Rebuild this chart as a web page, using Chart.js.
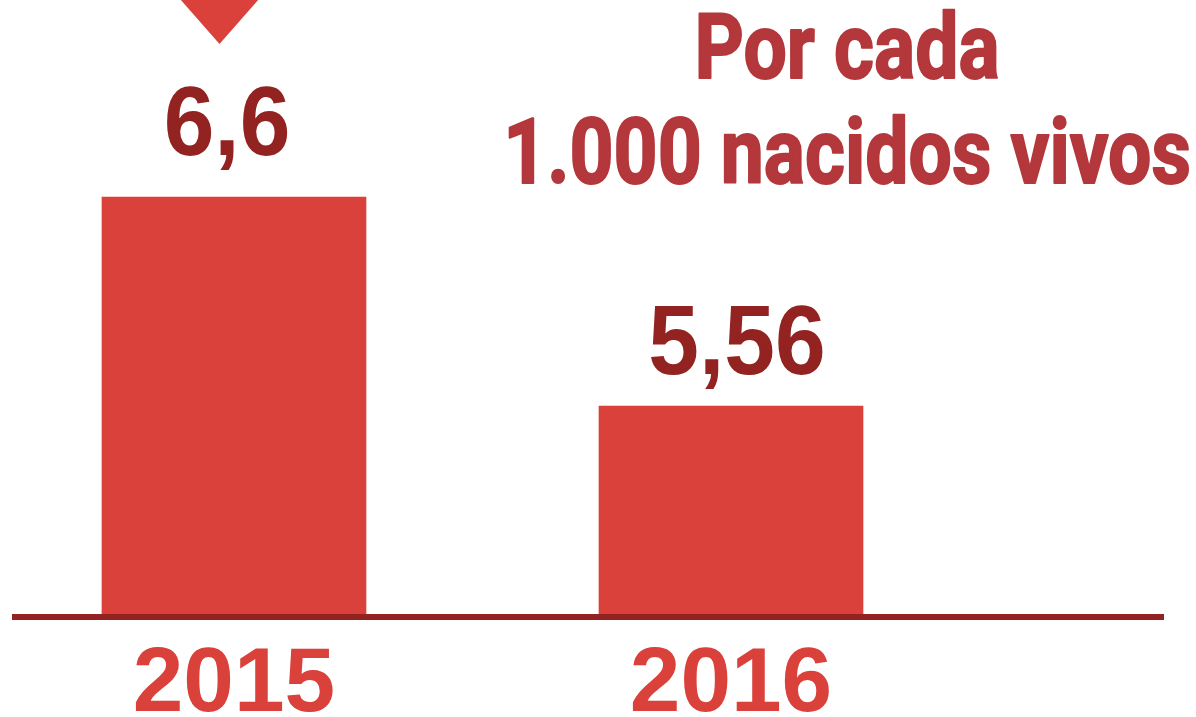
<!DOCTYPE html>
<html lang="es">
<head>
  <meta charset="UTF-8">
  <title>Por cada 1.000 nacidos vivos</title>
  <script src="https://cdn.jsdelivr.net/npm/chart.js"></script>
  <style>
    html, body { margin: 0; padding: 0; background: #fff; }
    .wrap { position: relative; width: 1196px; height: 717px; overflow: hidden; }
  </style>
</head>
<body>
  <div class="wrap">
    <canvas id="rateChart"></canvas>
  </div>

  <script>
    // data
    const years = [2015, 2016];
    const yearLabels = ['2015', '2016'];
    const rates = [6.6, 5.56];
    const rateLabels = ['6,6', '5,56'];
    const titleLines = ['Por cada', '1.000 nacidos vivos'];

    const barRed = '#d9413a';
    const darkRed = '#922320';
    const titleRed = '#b3373b';

    // draw text squeezed horizontally (the original uses a condensed face)
    function squeezedText(ctx, text, x, y, font, color, sx, stroke) {
      ctx.save();
      ctx.font = font;
      ctx.fillStyle = color;
      ctx.textAlign = 'center';
      ctx.textBaseline = 'alphabetic';
      ctx.translate(x, y);
      ctx.scale(sx, 1);
      ctx.fillText(text, 0, 0);
      if (stroke) {
        ctx.strokeStyle = color;
        ctx.lineWidth = stroke;
        ctx.lineJoin = 'round';
        ctx.strokeText(text, 0, 0);
      }
      ctx.restore();
    }

    const extras = {
      id: 'extras',
      afterDatasetsDraw(chart) {
        const ctx = chart.ctx;
        const meta = chart.getDatasetMeta(0);
        // small hand nudges, as in the original artwork
        const gaps = [42, 32];
        const shifts = [-7, 6];
        meta.data.forEach((bar, i) => {
          squeezedText(ctx, rateLabels[i], bar.x + shifts[i], bar.y - gaps[i],
            'bold 98px "Liberation Sans", Arial, sans-serif', darkRed, 0.93);
        });

        // little down arrow above the first bar
        ctx.save();
        ctx.fillStyle = barRed;
        ctx.beginPath();
        ctx.moveTo(180, -1);
        ctx.lineTo(259, -1);
        ctx.lineTo(219.5, 44);
        ctx.closePath();
        ctx.fill();
        ctx.restore();

        // title, two lines
        const tFont = 'bold 90px Roboto, sans-serif';
        ctx.save();
        ctx.font = tFont;
        const m = ctx.measureText(titleLines[1]);
        const w = m.actualBoundingBoxLeft + m.actualBoundingBoxRight;
        const sx = 679 / w;
        ctx.restore();
        squeezedText(ctx, titleLines[0], 847, 78, tFont, titleRed, sx, 2);
        squeezedText(ctx, titleLines[1], 847, 183, tFont, titleRed, sx, 2);
      }
    };

    const ctx = document.getElementById('rateChart').getContext('2d');
    new Chart(ctx, {
      type: 'bar',
      data: {
        datasets: [{
          data: years.map((y, i) => ({ x: y, y: rates[i] })),
          backgroundColor: barRed,
          borderWidth: 0,
          barThickness: 264
        }]
      },
      options: {
        responsive: true,
        maintainAspectRatio: false,
        animation: false,
        layout: { padding: { left: 15, right: 33, top: 0, bottom: 0 } },
        plugins: {
          legend: { display: false },
          tooltip: { enabled: false },
          title: { display: false }
        },
        scales: {
          x: {
            type: 'linear',
            offset: false,
            min: 2014.5594,
            max: 2016.8692,
            afterBuildTicks(scale) {
              scale.ticks = years.map(v => ({ value: v }));
            },
            afterFit(scale) {
              scale.height = 100;
            },
            grid: { display: false, drawTicks: false, offset: false },
            border: { display: true, color: darkRed, width: 6, z: 1 },
            ticks: {
              autoSkip: false,
              maxRotation: 0,
              padding: 14,
              color: barRed,
              font: { family: '"Liberation Sans", Arial, sans-serif', size: 91, weight: 'bold' },
              callback: (v) => yearLabels[years.indexOf(v)]
            }
          },
          y: {
            display: false,
            min: 4.51,
            max: 7.5803
          }
        }
      },
      plugins: [extras]
    });
  </script>
</body>
</html>
